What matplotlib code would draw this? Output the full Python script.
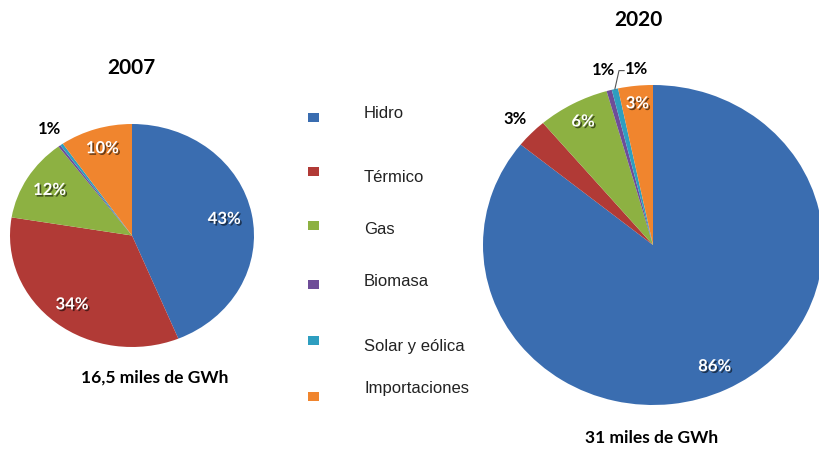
import numpy as np
import matplotlib
matplotlib.use("Agg")
import matplotlib.pyplot as plt
import matplotlib.patheffects as pe
from matplotlib.patches import Rectangle

W, H = 819, 449

categories = ["Hidro", "Térmico", "Gas", "Biomasa", "Solar y eólica", "Importaciones"]
colors = ["#3A6DB0", "#B13A36", "#8DB142", "#6E4D98", "#2E9EC0", "#F0852E"]

values_2007 = [43.8, 33.8, 12.1, 0.3, 0.4, 9.6]
labels_2007 = ["43%", "34%", "12%", "", "1%", "10%"]
values_2020 = [85.8, 3.0, 6.8, 0.5, 0.6, 3.3]
labels_2020 = ["86%", "3%", "6%", "1%", "1%", "3%"]

title_2007 = "2007"
title_2020 = "2020"
total_2007 = "16,5 miles de GWh"
total_2020 = "31 miles de GWh"

BOLD = ["Lato", "DejaVu Sans"]
REG = ["Liberation Sans", "DejaVu Sans"]

fig = plt.figure(figsize=(W / 100, H / 100), dpi=100)
fig.patch.set_facecolor("white")


def px_axes(x0, y0, x1, y1):
    return fig.add_axes([x0 / W, 1 - y1 / H, (x1 - x0) / W, (y1 - y0) / H])


def ftext(x, y, s, **kw):
    fig.text(x / W, 1 - y / H, s, **kw)


shadow = [pe.withSimplePatchShadow(offset=(1.2, -1.2), shadow_rgbFace="black", alpha=0.55)]


def draw_pie(ax, values, labels, dists, inner):
    wedges, _ = ax.pie(values, colors=colors, startangle=90, counterclock=False,
                       radius=1.0, wedgeprops=dict(linewidth=0))
    ax.set_aspect("auto")
    ax.set_xlim(-1, 1)
    ax.set_ylim(-1, 1)
    ax.axis("off")
    mids = []
    for w, lab, d, inn in zip(wedges, labels, dists, inner):
        ang = np.deg2rad((w.theta1 + w.theta2) / 2)
        mids.append(ang)
        if not lab or d is None:
            continue
        if inn:
            ax.text(d * np.cos(ang), d * np.sin(ang), lab, ha="center", va="center",
                    color="white", fontsize=12, fontweight="bold", family=BOLD,
                    path_effects=shadow)
        else:
            ax.text(d * np.cos(ang), d * np.sin(ang), lab, ha="center", va="center",
                    color="black", fontsize=12, fontweight="bold", family=BOLD)
    return wedges, mids


# 2007 pie
ax1 = px_axes(10, 124, 254, 347)
draw_pie(ax1, values_2007, labels_2007,
         [0.77, 0.79, 0.79, None, 1.17, 0.82],
         [True, True, True, False, False, True])

# 2020 pie
ax2 = px_axes(483, 85, 823, 405)
w2, mids2 = draw_pie(ax2, values_2020, labels_2020,
                     [0.84, 1.13, 0.875, 1.13, None, 0.89],
                     [True, False, True, False, False, True])
# leader line for solar label
a = mids2[4]
sx, sy = np.cos(a), np.sin(a)
ax2.plot([sx, -0.2, -0.17], [sy, 1.09, 1.09], color="#555555", lw=0.8, clip_on=False)
ax2.text(-0.165, 1.10, labels_2020[4], ha="left", va="center", color="black",
         fontsize=12, fontweight="bold", family=BOLD)

# titles and totals
ftext(131, 68, title_2007, ha="center", va="center", fontsize=15, fontweight="bold", family=BOLD)
ftext(638, 20, title_2020, ha="center", va="center", fontsize=15, fontweight="bold", family=BOLD)
ftext(155, 378, total_2007, ha="center", va="center", fontsize=12.5, fontweight="bold", family=BOLD)
ftext(652, 438, total_2020, ha="center", va="center", fontsize=12.5, fontweight="bold", family=BOLD)

# legend (manual, irregular slide layout)
sq_y = [117, 171, 225, 284, 340, 396]
tx_y = [114, 178, 230, 282, 346, 389]
for cat, col, sy_, ty_ in zip(categories, colors, sq_y, tx_y):
    fig.add_artist(Rectangle(((313 - 5.5) / W, 1 - (sy_ + 4.5) / H), 11 / W, 9 / H,
                             transform=fig.transFigure, facecolor=col, edgecolor="none"))
    ftext(364, ty_, cat, ha="left", va="center", fontsize=12, family=REG, color="#222222")

fig.savefig("out.png", dpi=100, facecolor="white")
